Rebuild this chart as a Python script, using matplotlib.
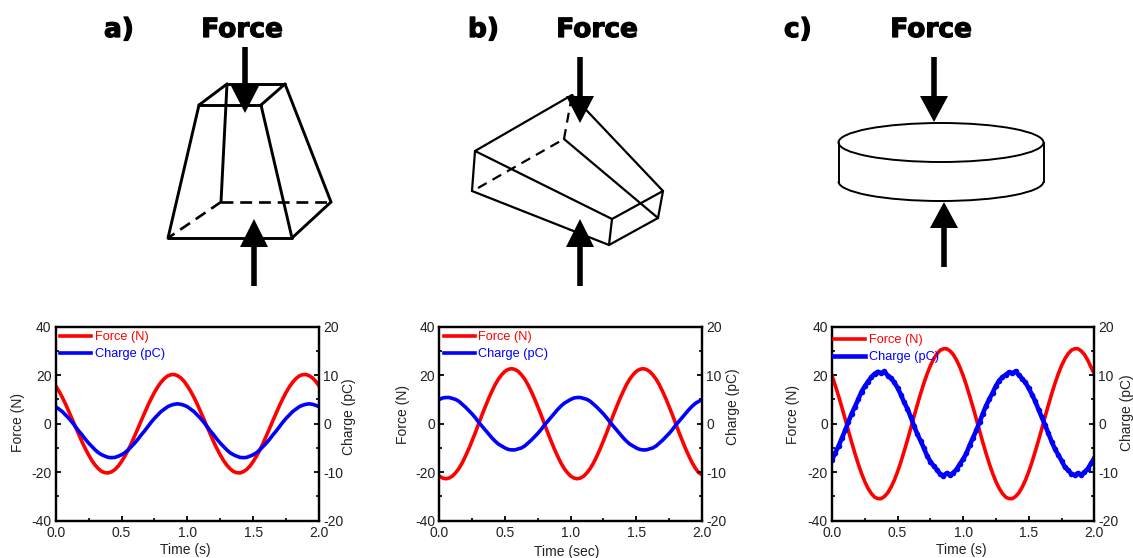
import matplotlib
matplotlib.use("Agg")
import matplotlib.pyplot as plt
import matplotlib.patheffects as pe
from matplotlib.lines import Line2D
from matplotlib.patches import Ellipse, Arc, Polygon
from matplotlib.ticker import MultipleLocator, FormatStrFormatter

W, H = 1133, 558
plt.rcParams['font.family'] = ['Liberation Sans', 'DejaVu Sans']
plt.rcParams['axes.unicode_minus'] = False

time_s = [0.000, 0.025, 0.050, 0.075, 0.100, 0.125, 0.150, 0.175, 0.200, 0.225,
          0.250, 0.275, 0.300, 0.325, 0.350, 0.375, 0.400, 0.425, 0.450, 0.475,
          0.500, 0.525, 0.550, 0.575, 0.600, 0.625, 0.650, 0.675, 0.700, 0.725,
          0.750, 0.775, 0.800, 0.825, 0.850, 0.875, 0.900, 0.925, 0.950, 0.975,
          1.000, 1.025, 1.050, 1.075, 1.100, 1.125, 1.150, 1.175, 1.200, 1.225,
          1.250, 1.275, 1.300, 1.325, 1.350, 1.375, 1.400, 1.425, 1.450, 1.475,
          1.500, 1.525, 1.550, 1.575, 1.600, 1.625, 1.650, 1.675, 1.700, 1.725,
          1.750, 1.775, 1.800, 1.825, 1.850, 1.875, 1.900, 1.925, 1.950, 1.975, 2.000]

force_a = [15.6, 13.4, 10.9, 8.1, 5.0, 1.9, -1.3, -4.4, -7.5, -10.3,
           -12.9, -15.2, -17.1, -18.6, -19.7, -20.2, -20.3, -19.8, -18.9, -17.5,
           -15.6, -13.4, -10.9, -8.1, -5.0, -1.9, 1.3, 4.4, 7.5, 10.3,
           12.9, 15.2, 17.1, 18.6, 19.7, 20.2, 20.3, 19.8, 18.9, 17.5,
           15.6, 13.4, 10.9, 8.1, 5.0, 1.9, -1.3, -4.4, -7.5, -10.3,
           -12.9, -15.2, -17.1, -18.6, -19.7, -20.2, -20.3, -19.8, -18.9, -17.5,
           -15.6, -13.4, -10.9, -8.1, -5.0, -1.9, 1.3, 4.4, 7.5, 10.3,
           12.9, 15.2, 17.1, 18.6, 19.7, 20.2, 20.3, 19.8, 18.9, 17.5, 15.6]
charge_a = [3.5, 3.0, 2.5, 1.8, 1.1, 0.3, -0.6, -1.5, -2.3, -3.2,
            -4.0, -4.7, -5.4, -6.0, -6.4, -6.7, -6.95, -7.0, -6.95, -6.7,
            -6.4, -6.0, -5.4, -4.7, -4.0, -3.2, -2.3, -1.5, -0.6, 0.3,
            1.1, 1.8, 2.5, 3.0, 3.5, 3.8, 4.0, 4.1, 4.0, 3.8,
            3.5, 3.0, 2.5, 1.8, 1.1, 0.3, -0.6, -1.5, -2.3, -3.2,
            -4.0, -4.7, -5.4, -6.0, -6.4, -6.7, -6.95, -7.0, -6.95, -6.7,
            -6.4, -6.0, -5.4, -4.7, -4.0, -3.2, -2.3, -1.5, -0.6, 0.3,
            1.1, 1.8, 2.5, 3.0, 3.5, 3.8, 4.0, 4.1, 4.0, 3.8, 3.5]
force_b = [-21.6, -22.4, -22.7, -22.4, -21.6, -20.2, -18.4, -16.1, -13.3, -10.3,
           -7.0, -3.6, 0.0, 3.6, 7.0, 10.3, 13.3, 16.1, 18.4, 20.2,
           21.6, 22.4, 22.7, 22.4, 21.6, 20.2, 18.4, 16.1, 13.3, 10.3,
           7.0, 3.6, 0.0, -3.6, -7.0, -10.3, -13.3, -16.1, -18.4, -20.2,
           -21.6, -22.4, -22.7, -22.4, -21.6, -20.2, -18.4, -16.1, -13.3, -10.3,
           -7.0, -3.6, 0.0, 3.6, 7.0, 10.3, 13.3, 16.1, 18.4, 20.2,
           21.6, 22.4, 22.7, 22.4, 21.6, 20.2, 18.4, 16.1, 13.3, 10.3,
           7.0, 3.6, 0.0, -3.6, -7.0, -10.3, -13.3, -16.1, -18.4, -20.2, -21.0]
charge_b = [5.0, 5.3, 5.4, 5.4, 5.2, 5.0, 4.6, 4.0, 3.4, 2.7,
            2.0, 1.2, 0.3, -0.5, -1.3, -2.1, -2.9, -3.6, -4.2, -4.6,
            -5.0, -5.3, -5.4, -5.4, -5.2, -5.0, -4.6, -4.0, -3.4, -2.7,
            -2.0, -1.2, -0.3, 0.5, 1.3, 2.1, 2.9, 3.6, 4.2, 4.6,
            5.0, 5.3, 5.4, 5.4, 5.2, 5.0, 4.6, 4.0, 3.4, 2.7,
            2.0, 1.2, 0.3, -0.5, -1.3, -2.1, -2.9, -3.6, -4.2, -4.6,
            -5.0, -5.3, -5.4, -5.4, -5.2, -5.0, -4.6, -4.0, -3.4, -2.7,
            -2.0, -1.2, -0.3, 0.5, 1.3, 2.1, 2.9, 3.6, 4.2, 4.6, 5.0]
force_c = [19.8, 15.8, 11.4, 6.8, 2.0, -2.9, -7.7, -12.3, -16.6, -20.5,
           -23.9, -26.7, -28.8, -30.3, -30.9, -30.9, -30.0, -28.5, -26.2, -23.3,
           -19.8, -15.8, -11.4, -6.8, -2.0, 2.9, 7.7, 12.3, 16.6, 20.5,
           23.9, 26.7, 28.8, 30.3, 30.9, 30.9, 30.0, 28.5, 26.2, 23.3,
           19.8, 15.8, 11.4, 6.8, 2.0, -2.9, -7.7, -12.3, -16.6, -20.5,
           -23.9, -26.7, -28.8, -30.3, -30.9, -30.9, -30.0, -28.5, -26.2, -23.3,
           -19.8, -15.8, -11.4, -6.8, -2.0, 2.9, 7.7, 12.3, 16.6, 20.5,
           23.9, 26.7, 28.8, 30.3, 30.9, 30.9, 30.0, 28.5, 26.2, 23.3, 20.6]
charge_c = [-7.5, -6.0, -4.6, -3.0, -1.4, 0.4, 2.1, 3.5, 5.0, 6.6,
            7.7, 8.7, 9.6, 10.3, 10.7, 10.4, 10.8, 9.9, 9.4, 8.5,
            7.4, 6.0, 4.4, 3.1, 1.4, -0.4, -2.1, -3.5, -5.0, -6.6,
            -7.8, -8.7, -9.5, -10.4, -10.7, -10.2, -10.6, -10.1, -9.4, -8.3,
            -7.3, -6.1, -4.4, -2.9, -1.4, 0.3, 2.1, 3.7, 5.1, 6.4,
            7.8, 8.9, 9.6, 10.1, 10.6, 10.4, 10.8, 10.0, 9.3, 8.5,
            7.3, 6.0, 4.6, 2.9, 1.3, -0.3, -2.0, -3.7, -5.2, -6.4,
            -7.6, -8.9, -9.6, -10.3, -10.6, -10.2, -10.6, -10.0, -9.3, -8.2, -7.1]

time_labels = ['Time (s)', 'Time (sec)', 'Time (s)']
panel_letters = ['a)', 'b)', 'c)']
force_title = 'Force'
force_name = 'Force (N)'
charge_name = 'Charge (pC)'

fig = plt.figure(figsize=(W / 100, H / 100), dpi=100, facecolor='white')
ov = fig.add_axes([0, 0, 1, 1], zorder=5)
ov.set_xlim(0, W)
ov.set_ylim(H, 0)
ov.axis('off')
ov.patch.set_alpha(0)


def px_axes(left, right, top, bottom):
    return fig.add_axes([left / W, 1 - bottom / H, (right - left) / W, (bottom - top) / H])


def panel(box, force, charge, xlabel, xl_pos, yl_pos, yr_pos, leg_pos, charge_lw, charge_ms):
    ax = px_axes(*box)
    ax2 = ax.twinx()
    ax.plot(time_s, force, color='#ff0000', lw=2.6, solid_joinstyle='round')
    ax2.plot(time_s, charge, color='#0000ff', lw=charge_lw, solid_joinstyle='round',
             marker='o' if charge_ms else None, ms=charge_ms, mew=0)
    ax.set_zorder(ax2.get_zorder() - 1)
    ax2.patch.set_alpha(0)
    ax.set_xlim(0, 2)
    ax.set_ylim(-40, 40)
    ax2.set_ylim(-20, 20)
    ax.xaxis.set_major_locator(MultipleLocator(0.5))
    ax.xaxis.set_minor_locator(MultipleLocator(0.25))
    ax.xaxis.set_major_formatter(FormatStrFormatter('%.1f'))
    ax.yaxis.set_major_locator(MultipleLocator(20))
    ax.yaxis.set_minor_locator(MultipleLocator(10))
    ax2.yaxis.set_major_locator(MultipleLocator(10))
    ax2.yaxis.set_minor_locator(MultipleLocator(5))
    for a in (ax, ax2):
        a.tick_params(which='major', direction='in', length=3.5, width=1.3, labelsize=10,
                      pad=3, colors='black', labelcolor='#222222')
        a.tick_params(which='minor', direction='in', length=2, width=1.2)
        for s in a.spines.values():
            s.set_linewidth(1.6)
    ax.tick_params(axis='x', pad=4)
    ax.set_xlabel(xlabel, fontsize=10, va='center', color='#222222')
    ax.set_ylabel(force_name, fontsize=10, va='center', color='#222222')
    ax2.set_ylabel(charge_name, fontsize=10, va='center', color='#222222')
    ax.xaxis.set_label_coords(*xl_pos, transform=ov.transData)
    ax.yaxis.set_label_coords(*yl_pos, transform=ov.transData)
    ax2.yaxis.set_label_coords(*yr_pos, transform=ov.transData)
    handles = [Line2D([], [], color='#ff0000', lw=2.6),
               Line2D([], [], color='#0000ff', lw=charge_lw)]
    ax2.legend(handles, [force_name, charge_name], loc='upper left',
               bbox_to_anchor=leg_pos, bbox_transform=ov.transData,
               frameon=False, fontsize=9.2, handlelength=2.43, handletextpad=0.3,
               labelspacing=0.4, borderaxespad=0, borderpad=0, labelcolor='linecolor')
    return ax


panel((55.7, 319, 326.7, 520.7), force_a, charge_a, time_labels[0],
      (185, 550), (18, 422), (349, 417), (60, 331), 2.6, 0)
panel((439.3, 702, 326.7, 520.7), force_b, charge_b, time_labels[1],
      (567, 552), (403, 415), (733, 407), (443.5, 331), 2.6, 0)
panel((832, 1094.3, 326.7, 520.7), force_c, charge_c, time_labels[2],
      (961, 550), (793, 415), (1127, 413), (834, 334), 3.3, 4.0)

# Schematics, in figure pixels
solid_a = [[(227, 84), (285, 84)], [(199, 105), (261, 105)], [(199, 105), (227, 84)],
           [(261, 105), (285, 84)], [(199, 105), (168, 238)], [(261, 105), (292, 238)],
           [(168, 238), (292, 238)], [(292, 238), (331, 202)], [(285, 84), (331, 202)],
           [(227, 84), (221, 202)]]
dashed_a = [[(221, 202), (331, 202)], [(221, 202), (168, 238)]]
solid_b = [[(475, 151), (572, 95)], [(572, 95), (663, 191)], [(475, 151), (612, 219)],
           [(472, 191), (609, 245)], [(475, 151), (472, 191)], [(612, 219), (609, 245)],
           [(612, 219), (663, 191)], [(663, 191), (658, 218)], [(609, 245), (658, 218)],
           [(564, 139), (658, 218)]]
dashed_b = [[(478, 188), (564, 139)], [(564, 139), (572, 95)]]
arrows = [(245, 47, 84, 113, 15), (254, 286, 247, 219, 14),
          (580, 57, 96, 123, 14), (580, 286, 247, 219, 14),
          (934, 57, 96, 122, 14), (944, 267, 228, 202, 14)]
title_x = [242, 597, 931]
letter_x = [104, 468, 784]

for seg in solid_a:
    ov.plot(*zip(*seg), color='black', lw=2.1, solid_capstyle='round')
for seg in dashed_a:
    ov.plot(*zip(*seg), color='black', lw=1.9, dashes=(4.5, 2.6))
for seg in solid_b:
    ov.plot(*zip(*seg), color='black', lw=1.6, solid_capstyle='round')
for seg in dashed_b:
    ov.plot(*zip(*seg), color='black', lw=1.6, dashes=(4.5, 3))

ov.add_patch(Ellipse((941, 142.5), 205, 39, fill=False, ec='black', lw=1.4))
ov.add_patch(Arc((941, 181.5), 205, 39, theta1=0, theta2=180, ec='black', lw=1.4))
ov.plot([838.5, 838.5], [142.5, 181.5], color='black', lw=1.4)
ov.plot([1043.5, 1043.5], [142.5, 181.5], color='black', lw=1.4)

for x, y0, y1, tip, hw in arrows:
    ov.plot([x, x], [y0, y1], color='black', lw=4, solid_capstyle='butt')
    ov.add_patch(Polygon([(x - hw, y1), (x + hw, y1), (x, tip)], closed=True, fc='black', ec='none'))

heavy = [pe.Stroke(linewidth=0.9, foreground='black')]
for x in title_x:
    ov.text(x, 30, force_title, fontsize=19, fontweight='bold', family='DejaVu Sans',
            ha='center', va='center', color='black', path_effects=heavy)
for x, s in zip(letter_x, panel_letters):
    ov.text(x, 30, s, fontsize=19, fontweight='bold', family='DejaVu Sans',
            ha='left', va='center', color='black', path_effects=heavy)

fig.savefig('out.png', dpi=100, facecolor='white')
